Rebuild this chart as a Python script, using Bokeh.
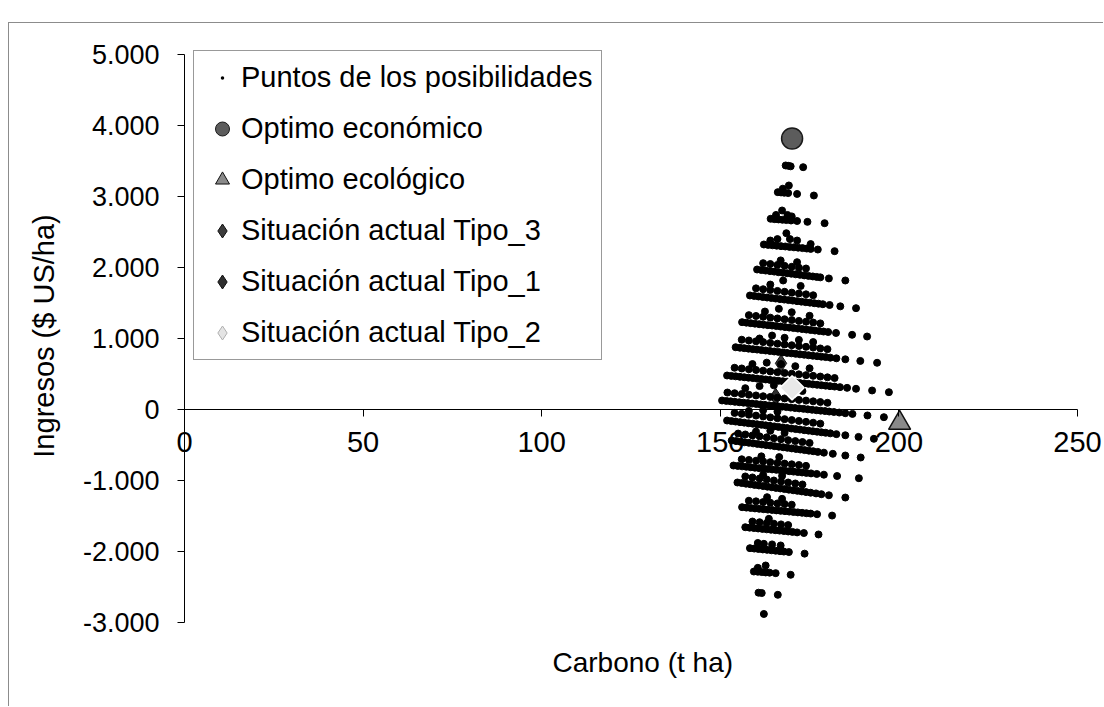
import math
from bokeh.plotting import figure
from bokeh.models import Range1d, LinearAxis, FixedTicker, Legend, LegendItem, Title
from bokeh.embed import file_html
from bokeh.resources import INLINE

# ---------------- data ----------------
x_ticks = [0, 50, 100, 150, 200, 250]
x_tick_labels = ["0", "50", "100", "150", "200", "250"]
y_ticks = [-3000, -2000, -1000, 0, 1000, 2000, 3000, 4000, 5000]
y_tick_labels = ["-3.000", "-2.000", "-1.000", "0", "1.000", "2.000", "3.000", "4.000", "5.000"]

# "Puntos de los posibilidades" - cloud read row by row (carbon, income)
x01 = [168.3, 169.0, 169.7, 173.2]
y01 = [3437, 3433, 3425, 3413]
x02 = [166.1, 167.0, 167.9, 169.0, 171.5, 176.2, 167.5, 169.2]
y02 = [3061, 3057, 3053, 3048, 3036, 3014, 3110, 3155]
x03 = [164.1, 165.2, 166.3, 167.4, 168.5, 169.8, 171.5, 174.4, 179.2, 165.6, 167.3, 168.8, 170.0]
y03 = [2686, 2681, 2677, 2672, 2668, 2662, 2655, 2643, 2624, 2740, 2803, 2740, 2720]
x04 = [162.2, 163.4, 164.6, 165.8, 167.0, 168.2, 169.4, 170.6, 171.8, 173.0, 174.2, 175.3, 177.3, 182.0,
       164.0, 166.0, 168.5, 169.5, 171.5, 175.3]
y04 = [2324, 2318, 2313, 2307, 2301, 2296, 2290, 2284, 2279, 2273, 2267, 2262, 2253, 2230,
       2380, 2400, 2483, 2400, 2380, 2330]
x05 = [160.3, 161.5, 162.7, 163.9, 165.1, 166.3, 167.5, 168.7, 169.9, 171.1, 172.3, 173.5, 174.7, 175.9,
       177.0, 178.0, 180.4, 185.0, 162.0, 164.0, 166.0, 168.0, 170.0, 172.0, 174.0, 166.9, 171.5]
y05 = [1972, 1964, 1957, 1949, 1942, 1934, 1927, 1919, 1912, 1904, 1897, 1889, 1882, 1874,
       1867, 1861, 1846, 1817, 2061, 2049, 2036, 2023, 2010, 1998, 1986, 2100, 2075]
x06 = [158.3, 159.5, 160.7, 161.9, 163.1, 164.3, 165.5, 166.7, 167.9, 169.1, 170.3, 171.5, 172.7, 173.9,
       175.1, 176.3, 177.5, 178.7, 180.6, 183.6, 188.0,
       160.0, 162.0, 164.0, 166.0, 168.0, 170.0, 172.0, 174.0, 176.0, 164.0, 167.6, 172.5]
y06 = [1606, 1599, 1592, 1584, 1577, 1570, 1563, 1555, 1548, 1541, 1534, 1526, 1519, 1512,
       1505, 1497, 1490, 1483, 1472, 1453, 1427,
       1706, 1694, 1682, 1670, 1658, 1646, 1634, 1622, 1609, 1760, 1817, 1740]
x07 = [156.1, 157.3, 158.5, 159.7, 160.9, 162.1, 163.3, 164.5, 165.7, 166.9, 168.1, 169.3, 170.5, 171.7,
       172.9, 174.1, 175.3, 176.5, 177.7, 178.9, 180.2, 182.4, 186.9, 191.1,
       158, 160, 162, 164, 166, 168, 170, 172, 174, 176, 178, 162.5, 166.4, 170.0, 175.0]
y07 = [1230, 1223, 1216, 1209, 1202, 1195, 1188, 1182, 1175, 1168, 1161, 1154, 1147, 1140,
       1133, 1126, 1119, 1112, 1105, 1098, 1091, 1078, 1052, 1028,
       1329, 1317, 1306, 1294, 1283, 1271, 1260, 1248, 1237, 1225, 1213, 1380, 1418, 1370, 1320]
x08 = [154.3, 155.5, 156.7, 157.9, 159.1, 160.3, 161.5, 162.7, 163.9, 165.1, 166.3, 167.5, 168.7, 169.9,
       171.1, 172.3, 173.5, 174.7, 175.9, 177.1, 178.3, 179.5, 180.8, 182.5, 185.0, 189.2, 193.9,
       156, 158, 160, 162, 164, 166, 168, 170, 172, 174, 176, 178, 180, 161, 164.5, 168, 172, 176]
y08 = [877, 870, 864, 857, 850, 844, 837, 831, 824, 817, 811, 804, 797, 791,
       784, 777, 771, 764, 757, 751, 744, 738, 730, 721, 707, 684, 658,
       983, 972, 960, 949, 938, 927, 916, 905, 894, 883, 872, 860, 850, 1000, 1042, 1010, 980, 950]
x09 = [151.9, 153.1, 154.3, 155.5, 156.7, 157.9, 159.1, 160.3, 161.5, 162.7, 163.9, 165.1, 166.3, 167.5,
       168.7, 169.9, 171.1, 172.3, 173.5, 174.7, 175.9, 177.1, 178.3, 179.5, 180.7, 182.0, 183.5, 185.5,
       188.0, 192.5, 197.2,
       154, 156, 158, 160, 162, 164, 166, 168, 170, 172, 174, 176, 178, 180, 182, 159, 163, 167, 171, 175]
y09 = [479, 473, 467, 460, 454, 448, 442, 435, 429, 423, 417, 410, 404, 398,
       392, 386, 379, 373, 367, 361, 354, 348, 342, 336, 329, 323, 315, 305,
       292, 268, 244,
       588, 578, 567, 557, 547, 536, 526, 515, 505, 495, 484, 474, 464, 453, 443, 640, 660, 640, 610, 580]
x10 = [150.5, 151.7, 152.9, 154.1, 155.3, 156.5, 157.7, 158.9, 160.1, 161.3, 162.5, 163.7, 164.9, 166.1,
       167.3, 168.5, 169.7, 170.9, 172.1, 173.3, 174.5, 175.7, 176.9, 178.1, 179.3, 180.5, 181.8, 183.3,
       185.0, 187.0, 191.2, 195.8,
       152, 154, 156, 158, 160, 162, 164, 166, 168, 170, 172, 174, 176, 178, 180, 157, 161, 165, 169, 173]
y10 = [127, 121, 115, 108, 102, 96, 90, 83, 77, 71, 65, 58, 52, 46,
       40, 34, 27, 21, 15, 9, 2, -4, -10, -16, -22, -29, -35, -43,
       -52, -62, -84, -108,
       239, 229, 218, 208, 198, 187, 177, 166, 156, 146, 135, 125, 115, 105, 94, 300, 330, 340, 300, 260]
x11 = [151.9, 153.1, 154.3, 155.5, 156.7, 157.9, 159.1, 160.3, 161.5, 162.7, 163.9, 165.1, 166.3, 167.5,
       168.7, 169.9, 171.1, 172.3, 173.5, 174.7, 175.9, 177.1, 178.3, 179.5, 180.8, 182.5, 185.0, 188.7, 193.0,
       154, 156, 158, 160, 162, 164, 166, 168, 170, 172, 174, 176, 178, 158, 162, 166]
y11 = [-155, -163, -170, -178, -185, -193, -200, -208, -215, -223, -230, -238, -245, -253,
       -261, -268, -276, -283, -291, -298, -306, -313, -321, -328, -336, -347, -363, -386, -413,
       -48, -61, -73, -86, -98, -111, -123, -136, -149, -161, -174, -186, -199, -20, -10, -30]
x12 = [153.2, 154.4, 155.6, 156.8, 158.0, 159.2, 160.4, 161.6, 162.8, 164.0, 165.2, 166.4, 167.6, 168.8,
       170.0, 171.2, 172.4, 173.6, 174.8, 176.0, 177.3, 179.0, 181.5, 185.0, 189.3,
       155, 157, 159, 161, 163, 165, 167, 169, 171, 173, 175, 160, 164, 168]
y12 = [-437, -445, -453, -461, -469, -477, -485, -493, -501, -508, -516, -524, -532, -540,
       -548, -556, -564, -572, -580, -588, -597, -608, -624, -648, -676,
       -339, -352, -365, -378, -392, -405, -418, -432, -445, -458, -471, -310, -300, -330]
x13 = [153.7, 154.9, 156.1, 157.3, 158.5, 159.7, 160.9, 162.1, 163.3, 164.5, 165.7, 166.9, 168.1, 169.3,
       170.5, 171.7, 172.9, 174.1, 175.4, 177.0, 179.0, 182.7, 188.8,
       156, 158, 160, 162, 164, 166, 168, 170, 172, 174, 161.5, 166.5]
y13 = [-789, -795, -801, -807, -813, -820, -826, -832, -838, -844, -850, -856, -862, -869,
       -875, -881, -887, -893, -900, -908, -918, -937, -968,
       -701, -711, -721, -731, -742, -752, -762, -772, -782, -794, -660, -670]
x14 = [154.8, 156.0, 157.2, 158.4, 159.6, 160.8, 162.0, 163.2, 164.4, 165.6, 166.8, 168.0, 169.2, 170.4,
       171.6, 172.8, 174.0, 175.3, 176.8, 178.3, 180.4, 185.0,
       157, 159, 161, 163, 165, 167, 169, 171, 173, 162, 167.3]
y14 = [-1028, -1036, -1045, -1053, -1062, -1070, -1079, -1087, -1095, -1104, -1112, -1121, -1129, -1138,
       -1146, -1154, -1163, -1172, -1182, -1193, -1208, -1240,
       -943, -957, -972, -986, -1000, -1014, -1028, -1042, -1056, -920, -935]
x15 = [156.1, 157.3, 158.5, 159.7, 160.9, 162.1, 163.3, 164.5, 165.7, 166.9, 168.1, 169.3, 170.5, 171.7,
       172.9, 174.1, 175.3, 177.1, 181.3, 158, 160, 162, 164, 166, 168, 170, 163.1, 167.3]
y15 = [-1376, -1382, -1387, -1393, -1399, -1404, -1410, -1415, -1421, -1427, -1432, -1438, -1444, -1449,
       -1455, -1461, -1466, -1475, -1494, -1285, -1294, -1304, -1313, -1323, -1332, -1341, -1235, -1258]
x16 = [157.0, 158.2, 159.4, 160.6, 161.8, 163.0, 164.2, 165.4, 166.6, 167.8, 169.0, 170.2, 171.5, 173.4,
       177.5, 159, 161, 163, 165, 167, 169, 163.6]
y16 = [-1658, -1664, -1670, -1676, -1682, -1688, -1694, -1700, -1706, -1712, -1718, -1724, -1731, -1740,
       -1760, -1578, -1588, -1598, -1608, -1618, -1628, -1540]
x17 = [158.3, 159.5, 160.7, 161.9, 163.1, 164.3, 165.5, 166.7, 167.8, 169.2, 173.6, 160.5, 162.2, 164.5, 166.9]
y17 = [-1953, -1959, -1965, -1971, -1977, -1983, -1989, -1995, -2001, -2008, -2030, -1880, -1892, -1900, -1915]
x18 = [159.4, 160.5, 161.6, 162.7, 163.8, 165.5, 169.7, 160.5, 162.7]
y18 = [-2282, -2285, -2290, -2295, -2298, -2305, -2328, -2230, -2197]
x19 = [160.7, 161.6, 166.1]
y19 = [-2580, -2585, -2610]
x20 = [162.2]
y20 = [-2880]

econ_x = [170.1]
econ_y = [3817]
ecol_x = [200.2]
ecol_y = [-190]
tipo3_x = [167.0]
tipo3_y = [650]
tipo1_x = [165.5]
tipo1_y = [180]
tipo2_x = [170.1]
tipo2_y = [305]

cloud_x = (x01 + x02 + x03 + x04 + x05 + x06 + x07 + x08 + x09 + x10
           + x11 + x12 + x13 + x14 + x15 + x16 + x17 + x18 + x19 + x20)
cloud_y = (y01 + y02 + y03 + y04 + y05 + y06 + y07 + y08 + y09 + y10
           + y11 + y12 + y13 + y14 + y15 + y16 + y17 + y18 + y19 + y20)

FONT = "Liberation Sans"

# ---------------- figure ----------------
# the frame is larger than the axes' extent so that tick labels of the
# crossing axes are not clipped; axes are bounded to 0..250 and -3000..5000
p = figure(width=1095, height=684, output_backend="svg", toolbar_location=None,
           x_range=Range1d(-34.15, 257.28), y_range=Range1d(-3295.8, 5366.2),
           x_axis_location=None, y_axis_location=None,
           min_border_left=53, min_border_right=1, min_border_top=5, min_border_bottom=64)
p.margin = (22, 0, 0, 8)
p.styles = {"border-left": "1px solid #8c8c8c", "border-top": "1px solid #8c8c8c"}
p.grid.grid_line_color = None
p.outline_line_color = None
p.background_fill_color = "white"
p.border_fill_color = "white"

ya = LinearAxis(fixed_location=0, bounds=(-3000, 5000), ticker=FixedTicker(ticks=y_ticks),
                major_label_overrides=dict(zip(y_ticks, y_tick_labels)),
                major_tick_out=7, major_tick_in=0, minor_tick_out=0, minor_tick_in=0,
                axis_line_color="black", major_tick_line_color="black",
                major_label_standoff=18, major_label_text_font=FONT,
                major_label_text_font_size="27px", major_label_text_color="black")
p.add_layout(ya, "left")

yt = LinearAxis(ticker=FixedTicker(ticks=[]), axis_line_color=None,
                major_tick_line_color=None, minor_tick_line_color=None,
                major_tick_out=0, minor_tick_out=0, major_label_standoff=0,
                axis_label="Ingresos ($ US/ha)", axis_label_standoff=3,
                axis_label_text_font=FONT, axis_label_text_font_size="29px",
                axis_label_text_font_style="normal", axis_label_text_color="black")
p.add_layout(yt, "left")

xa = LinearAxis(fixed_location=0, bounds=(0, 250), ticker=FixedTicker(ticks=x_ticks),
                major_label_overrides=dict(zip(x_ticks, x_tick_labels)),
                major_tick_out=7, major_tick_in=0, minor_tick_out=0, minor_tick_in=0,
                axis_line_color="black", major_tick_line_color="black",
                major_label_standoff=16, major_label_text_font=FONT,
                major_label_text_font_size="29px", major_label_text_color="black")
p.add_layout(xa, "below")

xt = Title(text="Carbono (t ha)", align="left", offset=490, standoff=3,
           text_font=FONT, text_font_size="28px", text_font_style="normal", text_color="black")
p.add_layout(xt, "below")

# ---------------- glyphs ----------------
# legend-only small dot and the two dark diamonds lie underneath the cloud
dot_leg = p.scatter(x01[:1], y01[:1], marker="dot", size=14, line_width=5, line_color="black")
t3 = p.scatter(tipo3_x, tipo3_y, marker="diamond", size=17,
               fill_color="#3c3c3c", line_color="#111111")
t1 = p.scatter(tipo1_x, tipo1_y, marker="diamond", size=17,
               fill_color="#2e2e2e", line_color="#111111")

cloud = p.scatter(cloud_x, cloud_y, marker="circle", size=7, fill_color="black", line_color="black")

econ_leg = p.scatter(econ_x, econ_y, marker="circle", size=14, fill_color="#5c5c5c", line_color="#1a1a1a")
p.scatter(econ_x, econ_y, marker="circle", size=21, fill_color="#5c5c5c", line_color="#1a1a1a", line_width=1.5)

ecol_leg = p.scatter(ecol_x, ecol_y, marker="triangle", size=15, fill_color="#8a8a8a", line_color="#111111")
p.scatter(ecol_x, ecol_y, marker="triangle", size=22, fill_color="#8a8a8a", line_color="#111111", line_width=1.5)

t2_leg = p.scatter(tipo2_x, tipo2_y, marker="diamond", size=17,
                   fill_color="#e4e4e4", line_color="#b0b0b0")
p.scatter(tipo2_x, tipo2_y, marker="square", angle=math.pi / 4, size=17,
          fill_color="#e8e8e8", line_color="#ffffff", line_width=1.5)

legend = Legend(items=[
    LegendItem(label="Puntos de los posibilidades", renderers=[dot_leg]),
    LegendItem(label="Optimo económico", renderers=[econ_leg]),
    LegendItem(label="Optimo ecológico", renderers=[ecol_leg]),
    LegendItem(label="Situación actual Tipo_3", renderers=[t3]),
    LegendItem(label="Situación actual Tipo_1", renderers=[t1]),
    LegendItem(label="Situación actual Tipo_2", renderers=[t2_leg]),
], location=(131, 283))
legend.margin = 0
legend.padding = 9
legend.spacing = 16
legend.glyph_width = 38
legend.glyph_height = 35
legend.label_height = 20
legend.label_standoff = 0
legend.label_text_font = FONT
legend.label_text_font_size = "29px"
legend.label_text_color = "black"
legend.border_line_color = "#333333"
legend.border_line_width = 1
legend.background_fill_color = "white"
legend.background_fill_alpha = 1
p.add_layout(legend, "center")

open("out.html", "w").write(file_html(p, INLINE))
